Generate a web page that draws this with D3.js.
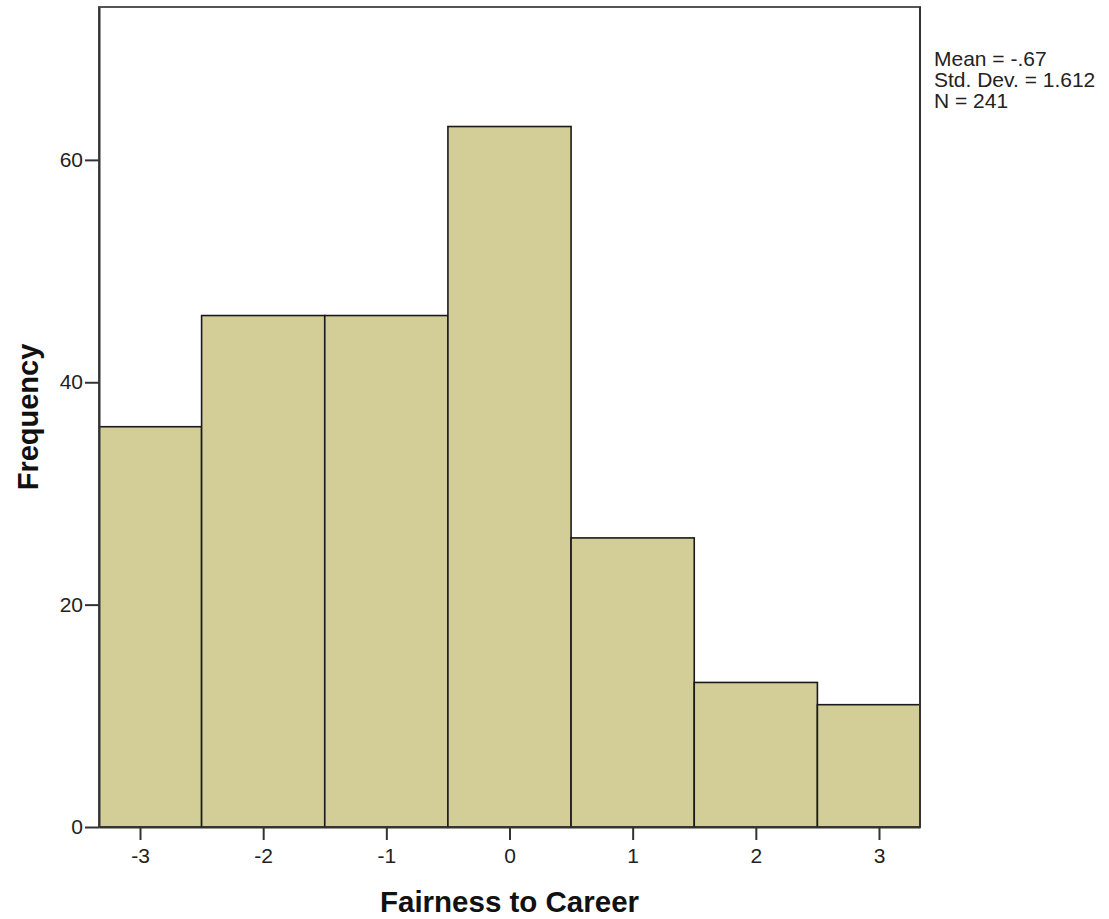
<!DOCTYPE html>
<html>
<head>
<meta charset="utf-8">
<script src="https://cdn.jsdelivr.net/npm/d3@7"></script>
<style>
  html, body { margin: 0; padding: 0; background: #fff; }
  svg { display: block; }
  text { font-family: "Liberation Sans", Arial, sans-serif; }
</style>
</head>
<body>
<script>
// ---- data ----
const binCenters = [-3, -2, -1, 0, 1, 2, 3];
const frequencies = [36, 46, 46, 63, 26, 13, 11];
const xTickValues = [-3, -2, -1, 0, 1, 2, 3];
const yTickValues = [0, 20, 40, 60];
const statLines = ["Mean = -.67", "Std. Dev. = 1.612", "N = 241"];
const xTitle = "Fairness to Career";
const yTitle = "Frequency";

const W = 1109, H = 919;
const plot = { left: 99, right: 920, top: 7, bottom: 827 };

const svg = d3.select("body").append("svg").attr("width", W).attr("height", H);

const x = d3.scaleLinear().domain([-3.333, 3.333]).range([plot.left, plot.right]);
const y = d3.scaleLinear().domain([0, 73.75]).range([plot.bottom, plot.top]);

svg.append("defs").append("clipPath").attr("id", "clip")
  .append("rect")
  .attr("x", plot.left).attr("y", plot.top)
  .attr("width", plot.right - plot.left).attr("height", plot.bottom - plot.top);

// frame
svg.append("rect")
  .attr("x", plot.left).attr("y", plot.top)
  .attr("width", plot.right - plot.left).attr("height", plot.bottom - plot.top)
  .attr("fill", "none").attr("stroke", "#555").attr("stroke-width", 2);

// bars
const data = binCenters.map((c, i) => ({ x0: c - 0.5, x1: c + 0.5, n: frequencies[i] }));
svg.append("g").attr("clip-path", "url(#clip)")
  .selectAll("rect").data(data).join("rect")
  .attr("x", d => x(d.x0))
  .attr("width", d => x(d.x1) - x(d.x0))
  .attr("y", d => y(d.n))
  .attr("height", d => y(0) - y(d.n))
  .attr("fill", "#d3ce97")
  .attr("stroke", "#1a1a1a")
  .attr("stroke-width", 1.6);

svg.append("line").attr("x1", plot.right).attr("x2", plot.right).attr("y1", plot.top).attr("y2", plot.bottom)
  .attr("stroke", "#333").attr("stroke-width", 2);

// axes
const fmt = d => String(d);
const yAxis = d3.axisLeft(y).tickValues(yTickValues).tickSize(14).tickSizeOuter(0).tickPadding(2).tickFormat(fmt);
const gy = svg.append("g").attr("transform", `translate(${plot.left},0)`).call(yAxis);
const xAxis = d3.axisBottom(x).tickValues(xTickValues).tickSize(13).tickSizeOuter(0).tickPadding(8).tickFormat(fmt);
const gx = svg.append("g").attr("transform", `translate(0,${plot.bottom})`).call(xAxis);

[gx, gy].forEach(g => {
  g.select(".domain").attr("stroke", "#333").attr("stroke-width", 2);
  g.selectAll(".tick line").attr("stroke", "#333").attr("stroke-width", 2);
  g.selectAll(".tick text").attr("fill", "#222").style("font-size", "21px")
    .style("font-family", "'Liberation Sans', Arial, sans-serif");
});

// titles
svg.append("text")
  .attr("x", x(0)).attr("y", 912)
  .attr("text-anchor", "middle")
  .style("font-size", "29.5px").style("font-weight", "bold").attr("fill", "#111")
  .text(xTitle);

svg.append("text")
  .attr("transform", `translate(38,${(plot.top + plot.bottom) / 2}) rotate(-90)`)
  .attr("text-anchor", "middle")
  .style("font-size", "29px").style("font-weight", "bold").attr("fill", "#111")
  .text(yTitle);

// stats
svg.append("g").selectAll("text").data(statLines).join("text")
  .attr("x", 934)
  .attr("y", (d, i) => 66 + i * 21)
  .style("font-size", "21px").attr("fill", "#222")
  .text(d => d);
</script>
</body>
</html>
